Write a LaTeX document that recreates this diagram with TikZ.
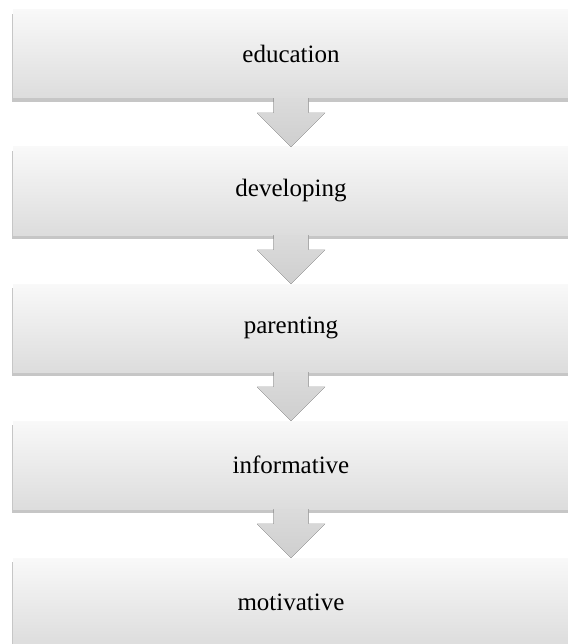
\documentclass[tikz,border=0pt]{standalone}
\usepackage{fontspec}
\setmainfont{Liberation Serif}
\usepackage{tikz}
\usetikzlibrary{calc,shapes,positioning,shadows}
\tikzset{
    stage/.style={
    rectangle,draw=none,minimum width=556pt,minimum height=88pt,
    top color=gray!5,bottom color=gray!27,font=\fontsize{25}{30}\selectfont,
    drop shadow={shadow xshift=-1pt,shadow yshift=-4pt,opacity=0.45,fill=gray}
    },
    flowarrow/.style={
    top color=gray!28,bottom color=gray!38,draw=none
    },
}
\newcommand{\flowarrow}[2]{%
  \fill[flowarrow] ($(#1.south)+(-17.5,0)$) -- ($(#1.south)+(17.5,0)$)
    -- ($(#2.north)+(17.5,34)$) -- ($(#2.north)+(34,34)$) -- (#2.north)
    -- ($(#2.north)+(-34,34)$) -- ($(#2.north)+(-17.5,34)$) -- cycle;}

\begin{document}
\begin{tikzpicture}[x=1pt,y=1pt,node distance=137pt,on grid,auto]
   \useasboundingbox (0,0) rectangle (567,-644);
   \node[stage] (edu) at (291,-54) {education};
   \node[stage] (dev) [below=of edu] {developing};
   \node[stage] (par) [below=of dev] {parenting};
   \node[stage] (inf) [below=of par] {informative};
   \node[stage] (mot) [below=of inf] {motivative};

   \flowarrow{edu}{dev}
   \flowarrow{dev}{par}
   \flowarrow{par}{inf}
   \flowarrow{inf}{mot}
\end{tikzpicture}
\end{document}
